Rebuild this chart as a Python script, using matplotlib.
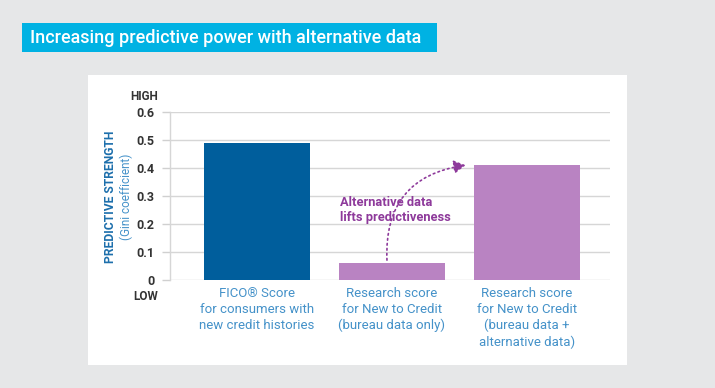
import matplotlib
matplotlib.use("Agg")
import matplotlib.pyplot as plt
from matplotlib.patches import FancyArrowPatch, Rectangle

categories = ["FICO\u00ae Score\nfor consumers with\nnew credit histories",
              "Research score\nfor New to Credit\n(bureau data only)",
              "Research score\nfor New to Credit\n(bureau data +\nalternative data)"]
values = [0.49, 0.06, 0.41]
bar_colors = ["#005e9c", "#b983c2", "#b983c2"]
yticks = [0, 0.1, 0.2, 0.3, 0.4, 0.5, 0.6]
ytick_labels = ["0", "0.1", "0.2", "0.3", "0.4", "0.5", "0.6"]

plt.rcParams['font.family'] = ['Roboto', 'DejaVu Sans']

W, H = 715, 388
fig = plt.figure(figsize=(7.15, 3.88), dpi=100)
fig.patch.set_facecolor("#e6e7e8")

# white panel
fig.patches.append(Rectangle((88 / W, 1 - 365 / H), (627 - 88) / W, (365 - 75) / H,
                             transform=fig.transFigure, facecolor="white", edgecolor="none", zorder=-10))
# title banner
fig.patches.append(Rectangle((22 / W, 1 - 52 / H), (437 - 22) / W, (52 - 23) / H,
                             transform=fig.transFigure, facecolor="#00b2e3", edgecolor="none", zorder=-10))
fig.text(30 / W, 1 - 38 / H, "Increasing predictive power with alternative data",
         color="white", fontsize=13, fontweight="medium", va="center", ha="left")

ax = fig.add_axes([170 / W, 1 - 280 / H, 440 / W, 168 / H])
ax.set_facecolor("none")
x = list(range(len(values)))
ax.bar(x, values, width=0.785, color=bar_colors, zorder=3)
ax.set_xlim(-0.644, 2.615)
ax.set_ylim(0, 0.6)
ax.set_yticks(yticks)
ax.set_yticklabels(ytick_labels, fontsize=9, fontweight="bold", color="#333333")
ax.tick_params(axis="y", length=6, color="#d0d0d0", width=1, pad=5)
ax.set_xticks(x)
ax.set_xticklabels(categories, fontsize=9.5, fontweight="normal", color="#4592c9", linespacing=1.3)
ax.tick_params(axis="x", length=0, pad=5)
ax.grid(axis="y", color="#d6d6d6", linewidth=1, zorder=1)
ax.set_axisbelow(True)
for s in ["top", "right", "bottom"]:
    ax.spines[s].set_visible(False)
ax.spines["left"].set_color("#d6d6d6")
ax.spines["left"].set_linewidth(1)

fig.text(158 / W, 1 - 96 / H, "HIGH", fontsize=8.5, fontweight="bold", color="#333333", ha="right", va="center")
fig.text(158 / W, 1 - 296 / H, "LOW", fontsize=8.5, fontweight="bold", color="#333333", ha="right", va="center")

fig.text(110 / W, 1 - 197 / H, "PREDICTIVE STRENGTH", rotation=90, fontsize=8.7, fontweight="bold",
         color="#1d6fac", ha="center", va="center")
fig.text(126 / W, 1 - 197 / H, "(Gini coefficient)", rotation=90, fontsize=8.5, fontweight="normal",
         color="#4592c9", ha="center", va="center")

ax.text(0.615, 0.25, "Alternative data\nlifts predictiveness", fontsize=9.3, fontweight="bold",
        color="#8e3a9b", ha="left", va="center", linespacing=1.1, zorder=5)

arrow = FancyArrowPatch((0.963, 0.071), (1.545, 0.41), connectionstyle="arc3,rad=-0.45",
                        arrowstyle="-|>,head_length=7,head_width=4", linestyle=(0, (1, 2)),
                        color="#8e3a9b", linewidth=1.2, zorder=5, shrinkA=0, shrinkB=0)
ax.add_patch(arrow)

fig.savefig("out.png", dpi=100, facecolor=fig.get_facecolor())
